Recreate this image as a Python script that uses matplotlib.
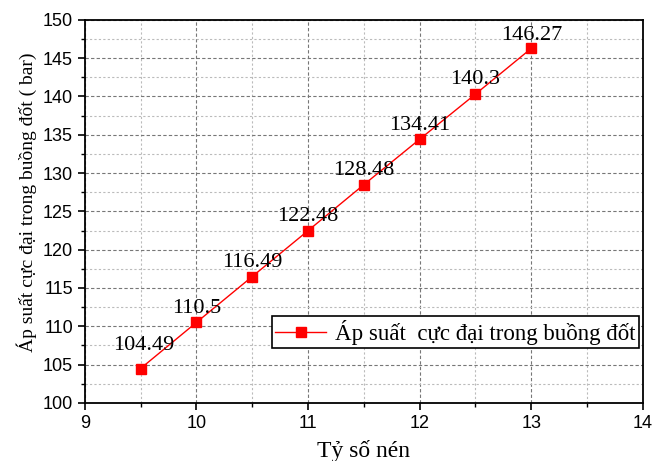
import matplotlib
matplotlib.use("Agg")
import matplotlib.pyplot as plt
from matplotlib.ticker import MultipleLocator

ratio = [9.5, 10, 10.5, 11, 11.5, 12, 12.5, 13]
pressure = [104.49, 110.5, 116.49, 122.48, 128.48, 134.41, 140.3, 146.27]
labels = ["104.49", "110.5", "116.49", "122.48", "128.48", "134.41", "140.3", "146.27"]

fig = plt.figure(figsize=(6.52, 4.61), dpi=100)
ax = fig.add_axes([0.130, 0.126, 0.856, 0.831])

ax.plot(ratio, pressure, color="red", lw=1.0, marker="s", markersize=7.3,
        markerfacecolor="red", markeredgecolor="red",
        label="Áp suất  cực đại trong buồng đốt", zorder=3)

# label offsets in points (style only)
label_dy = [13, 7, 7, 7, 7, 7, 7, 6]
label_dx = [2, 0, 0, 0, 0, 0, 0, 0]
for x, y, t, dx, dy in zip(ratio, pressure, labels, label_dx, label_dy):
    ax.annotate(t, (x, y), xytext=(dx, dy), textcoords="offset points",
                ha="center", va="baseline", fontsize=16, family="Liberation Serif")

ax.set_xlim(9, 14)
ax.set_ylim(100, 150)
ax.xaxis.set_major_locator(MultipleLocator(1))
ax.xaxis.set_minor_locator(MultipleLocator(0.5))
ax.yaxis.set_major_locator(MultipleLocator(5))
ax.yaxis.set_minor_locator(MultipleLocator(2.5))

ax.grid(which="major", color="#777777", linestyle=(0, (3, 2)), lw=0.8)
ax.grid(which="minor", color="#bbbbbb", linestyle=(0, (2, 2)), lw=0.8)
ax.set_axisbelow(True)

for s in ax.spines.values():
    s.set_linewidth(1.3)
ax.tick_params(which="major", direction="out", length=5, width=1.2, labelsize=13)
ax.tick_params(which="minor", direction="out", length=3, width=1.0)
for lab in ax.get_xticklabels() + ax.get_yticklabels():
    lab.set_family("Liberation Sans")

ax.set_xlabel("Tỷ số nén", fontsize=17, family="Liberation Serif", labelpad=6)
ax.set_ylabel("Áp suất cực đại trong buồng đốt ( bar)", fontsize=14,
              family="Liberation Serif")
ax.yaxis.set_label_coords(-0.086, 0.525)

leg = ax.legend(loc="lower right", bbox_to_anchor=(0.993, 0.143),
                prop={"family": "Liberation Serif", "size": 16.5},
                frameon=True, fancybox=False, edgecolor="black",
                framealpha=1, handlelength=2.2, borderpad=0.15,
                handletextpad=0.4, borderaxespad=0)
leg.get_frame().set_linewidth(1.2)

fig.savefig("out.png", dpi=100)
